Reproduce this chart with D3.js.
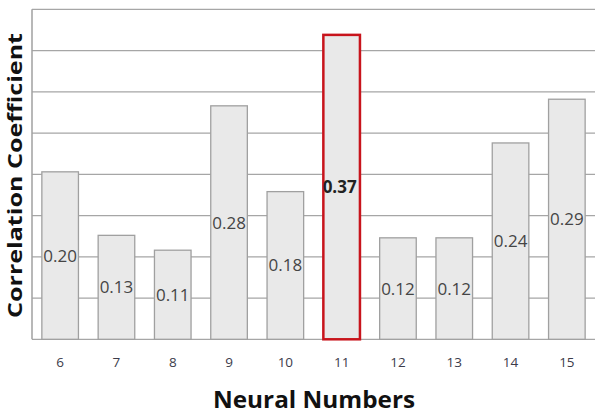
<!DOCTYPE html>
<html>
<head>
<meta charset="utf-8">
<script src="https://cdn.jsdelivr.net/npm/d3@7/dist/d3.min.js"></script>
<style>
  body { margin: 0; background: #fff; }
  svg { display: block; }
</style>
</head>
<body>
<svg id="chart" width="597" height="417"></svg>
<script>
var neurons = ['6', '7', '8', '9', '10', '11', '12', '13', '14', '15'],
    // bar heights; labels show them rounded
    coeffs = [0.203, 0.126, 0.108, 0.283, 0.179, 0.369, 0.123, 0.123, 0.238, 0.291],
    yTicks = [0, 0.05, 0.1, 0.15, 0.2, 0.25, 0.3, 0.35, 0.4],
    best = '11';

var svg = d3.select('#chart'),
    plotL = 32, plotR = 595, plotT = 9.3, plotB = 339.3;

var x = d3.scaleBand().domain(neurons).range([plotL, plotR])
      .paddingInner(0.35).paddingOuter(0.175),
    y = d3.scaleLinear().domain([0, 0.4]).range([plotB, plotT]);

// gridlines
svg.append('g').selectAll('line')
  .data(yTicks)
  .enter().append('line')
  .attr('x1', plotL).attr('x2', plotR)
  .attr('y1', function(d){ return y(d) }).attr('y2', function(d){ return y(d) })
  .attr('stroke', '#a6a6a6').attr('stroke-width', 1.3)

// left axis line
svg.append('line')
  .attr('x1', plotL).attr('x2', plotL).attr('y1', y(0.4)).attr('y2', y(0))
  .attr('stroke', '#a0a0a0').attr('stroke-width', 1.5)

// bars
svg.append('g').selectAll('rect')
  .data(coeffs)
  .enter().append('rect')
  .attr('x', function(d, i){ return x(neurons[i]) })
  .attr('width', x.bandwidth())
  .attr('y', function(d){ return y(d) })
  .attr('height', function(d){ return y(0) - y(d) })
  .attr('fill', '#e9e9e9')
  .attr('stroke', function(d, i){ return neurons[i] == best ? '#c8141c' : '#a0a0a0' })
  .attr('stroke-width', function(d, i){ return neurons[i] == best ? 2.5 : 1.3 })

// value labels, centred in each bar
svg.append('g').selectAll('text')
  .data(coeffs)
  .enter().append('text')
  .attr('x', function(d, i){ return x(neurons[i]) + x.bandwidth()/2 - (neurons[i] == best ? 2 : 0) })
  .attr('y', function(d){ return y(d/2) })
  .attr('dy', '0.35em')
  .attr('text-anchor', 'middle')
  .attr('font-family', 'Open Sans, sans-serif')
  .attr('font-size', 17)
  .attr('font-weight', function(d, i){ return neurons[i] == best ? 'bold' : 'normal' })
  .attr('fill', function(d, i){ return neurons[i] == best ? '#222' : '#454545' })
  .text(function(d){ return d.toFixed(2) })

// x axis ticks
var xAxis = svg.append('g')
  .attr('transform', 'translate(0,' + plotB + ')')
  .call(d3.axisBottom(x).tickSize(0).tickPadding(18))
xAxis.select('.domain').remove()
xAxis.selectAll('text')
  .attr('font-family', 'Open Sans, sans-serif')
  .attr('font-size', 13.5)
  .attr('fill', '#3c3c4a')

// axis titles
svg.append('text')
  .attr('x', 314).attr('y', 408)
  .attr('text-anchor', 'middle')
  .attr('font-family', 'Open Sans, sans-serif')
  .attr('font-weight', 'bold').attr('font-size', 23.5)
  .attr('textLength', 202).attr('lengthAdjust', 'spacingAndGlyphs')
  .attr('fill', '#111')
  .text('Neural Numbers')

svg.append('text')
  .attr('transform', 'translate(21.5,' + 175.5 + ') rotate(-90)')
  .attr('text-anchor', 'middle')
  .attr('font-family', 'Open Sans, sans-serif')
  .attr('font-weight', 'bold').attr('font-size', 20)
  .attr('textLength', 285).attr('lengthAdjust', 'spacingAndGlyphs')
  .attr('fill', '#111')
  .text('Correlation Coefficient')
</script>
</body>
</html>
